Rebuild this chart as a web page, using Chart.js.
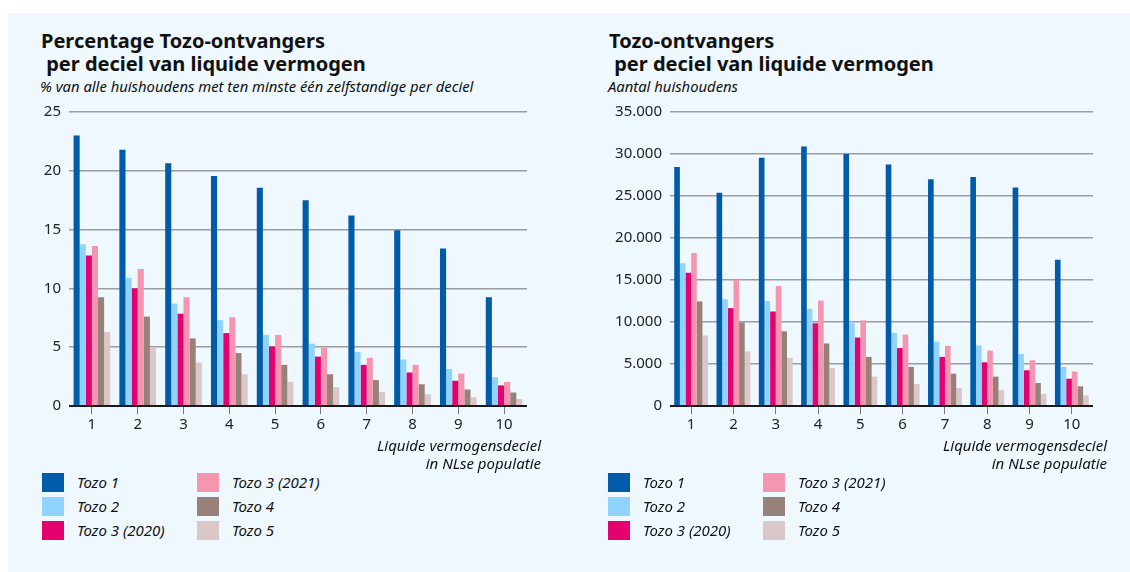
<!DOCTYPE html>
<html>
<head>
<meta charset="utf-8">
<script src="https://cdn.jsdelivr.net/npm/chart.js@4/dist/chart.umd.min.js"></script>
<style>
  body { margin: 0; width: 1130px; height: 572px; background: #fff; position: relative; overflow: hidden;
         font-family: "Noto Sans", sans-serif; color: #111; }
  #bg { position: absolute; left: 8px; top: 13px; right: 0; bottom: 0; background: #eef8fe; }
  .title { position: absolute; font-weight: bold; font-size: 20px; line-height: 23px; white-space: pre; }
  .sub { position: absolute; font-style: italic; font-size: 14.8px; line-height: 18px; white-space: pre; }
  .axt { position: absolute; font-style: italic; font-size: 15px; line-height: 18px; text-align: right; white-space: pre; }
  canvas { position: absolute; }
  .leg { position: absolute; font-style: italic; font-size: 15px; }
  .leg div { position: absolute; white-space: pre; height: 19px; line-height: 19px; }
  .leg span { position: absolute; width: 22px; height: 19px; }
</style>
</head>
<body>
<div id="bg"></div>

<div class="title" style="left:41px;top:29px">Percentage Tozo-ontvangers
 per deciel van liquide vermogen</div>
<div class="sub" style="left:40px;top:77px">% van alle huishoudens met ten minste één zelfstandige per deciel</div>

<div class="title" style="left:609px;top:29px">Tozo-ontvangers
 per deciel van liquide vermogen</div>
<div class="sub" style="left:608px;top:77px">Aantal huishoudens</div>

<canvas id="left" width="530" height="345" style="left:20px;top:95px"></canvas>
<canvas id="right" width="510" height="345" style="left:600px;top:95px"></canvas>

<div class="axt" style="right:589px;top:436px">Liquide vermogensdeciel
in NLse populatie</div>
<div class="axt" style="right:23px;top:436px">Liquide vermogensdeciel
in NLse populatie</div>

<div class="leg" id="legLeft" style="left:42px;top:473px"></div>
<div class="leg" id="legRight" style="left:608px;top:473px"></div>

<script>
// categorieën en reeksen
const deciles = ['1', '2', '3', '4', '5', '6', '7', '8', '9', '10'];
const seriesNames = ['Tozo 1', 'Tozo 2', 'Tozo 3 (2020)', 'Tozo 3 (2021)', 'Tozo 4', 'Tozo 5'];
const seriesColors = ['#005ca8', '#8fd3fe', '#e4006f', '#f596b0', '#978179', '#d9c8c7'];

// percentage per deciel
const tozo1Pct = [23.0, 21.8, 20.65, 19.55, 18.55, 17.5, 16.2, 14.95, 13.4, 9.25];
const tozo2Pct = [13.75, 10.9, 8.7, 7.3, 6.05, 5.3, 4.6, 3.95, 3.15, 2.45];
const tozo3aPct = [12.8, 10.0, 7.85, 6.2, 5.05, 4.2, 3.5, 2.85, 2.15, 1.75];
const tozo3bPct = [13.6, 11.65, 9.25, 7.55, 6.05, 4.95, 4.1, 3.5, 2.75, 2.05];
const tozo4Pct = [9.25, 7.6, 5.75, 4.5, 3.5, 2.7, 2.2, 1.85, 1.4, 1.15];
const tozo5Pct = [6.3, 5.0, 3.7, 2.7, 2.05, 1.6, 1.2, 1.0, 0.75, 0.6];

// aantal huishoudens per deciel
const tozo1N = [28450, 25400, 29550, 30900, 30000, 28750, 27000, 27250, 26000, 17400];
const tozo2N = [17000, 12700, 12500, 11550, 9850, 8700, 7650, 7200, 6200, 4650];
const tozo3aN = [15850, 11650, 11250, 9850, 8150, 6900, 5850, 5200, 4250, 3250];
const tozo3bN = [18200, 15050, 14300, 12550, 10200, 8500, 7150, 6600, 5450, 4100];
const tozo4N = [12450, 9950, 8900, 7450, 5850, 4650, 3850, 3500, 2750, 2350];
const tozo5N = [8400, 6500, 5750, 4550, 3500, 2600, 2150, 1900, 1450, 1250];

// y-as tick labels
const pctTicks = [0, 5, 10, 15, 20, 25];
const countTicks = [0, 5000, 10000, 15000, 20000, 25000, 30000, 35000];

function dotThousands(v) {
  return String(v).replace(/\B(?=(\d{3})+(?!\d))/g, '.');
}

function makeChart(id, seriesData, ticks, yWidth, padRight) {
  const ctx = document.getElementById(id).getContext('2d');
  return new Chart(ctx, {
    type: 'bar',
    data: {
      labels: deciles,
      datasets: seriesData.map((d, i) => ({
        label: seriesNames[i],
        data: d,
        backgroundColor: seriesColors[i],
        borderWidth: 0,
        categoryPercentage: 0.8,
        barPercentage: 1.0
      }))
    },
    options: {
      responsive: false,
      animation: false,
      layout: { padding: { top: 17, right: padRight, left: 0, bottom: 0 } },
      plugins: { legend: { display: false }, tooltip: { enabled: false } },
      scales: {
        x: {
          afterFit: s => { s.height = 34; },
          grid: { offset: false, drawOnChartArea: false, drawTicks: true, tickLength: 8, color: '#777', lineWidth: 1 },
          border: { display: false },
          ticks: { color: '#222', font: { family: 'Noto Sans', size: 15 }, padding: 2, maxRotation: 0 }
        },
        y: {
          min: 0,
          max: ticks[ticks.length - 1],
          afterFit: s => { s.width = yWidth; },
          afterBuildTicks: s => { s.ticks = ticks.map(v => ({ value: v })); },
          grid: {
            drawTicks: false,
            color: c => c.tick && c.tick.value === 0 ? '#1a1a1a' : '#9c9c9c',
            lineWidth: c => c.tick && c.tick.value === 0 ? 2 : 1.5
          },
          border: { display: false },
          ticks: {
            color: '#222', font: { family: 'Noto Sans', size: 15 }, padding: 8,
            callback: v => dotThousands(v)
          }
        }
      }
    }
  });
}

makeChart('left', [tozo1Pct, tozo2Pct, tozo3aPct, tozo3bPct, tozo4Pct, tozo5Pct], pctTicks, 49, 23);
makeChart('right', [tozo1N, tozo2N, tozo3aN, tozo3bN, tozo4N, tozo5N], countTicks, 70, 17);

// legenda in twee kolommen
function buildLegend(id, colOffset) {
  const el = document.getElementById(id);
  seriesNames.forEach((name, i) => {
    const col = Math.floor(i / 3), row = i % 3;
    const sq = document.createElement('span');
    sq.style.left = (col * colOffset[0]) + 'px';
    sq.style.top = (row * 24) + 'px';
    sq.style.background = seriesColors[i];
    el.appendChild(sq);
    const tx = document.createElement('div');
    tx.textContent = name;
    tx.style.left = (col * colOffset[0] + colOffset[1]) + 'px';
    tx.style.top = (row * 24) + 'px';
    el.appendChild(tx);
  });
}
buildLegend('legLeft', [155, 35]);
buildLegend('legRight', [155, 35]);
</script>
</body>
</html>
